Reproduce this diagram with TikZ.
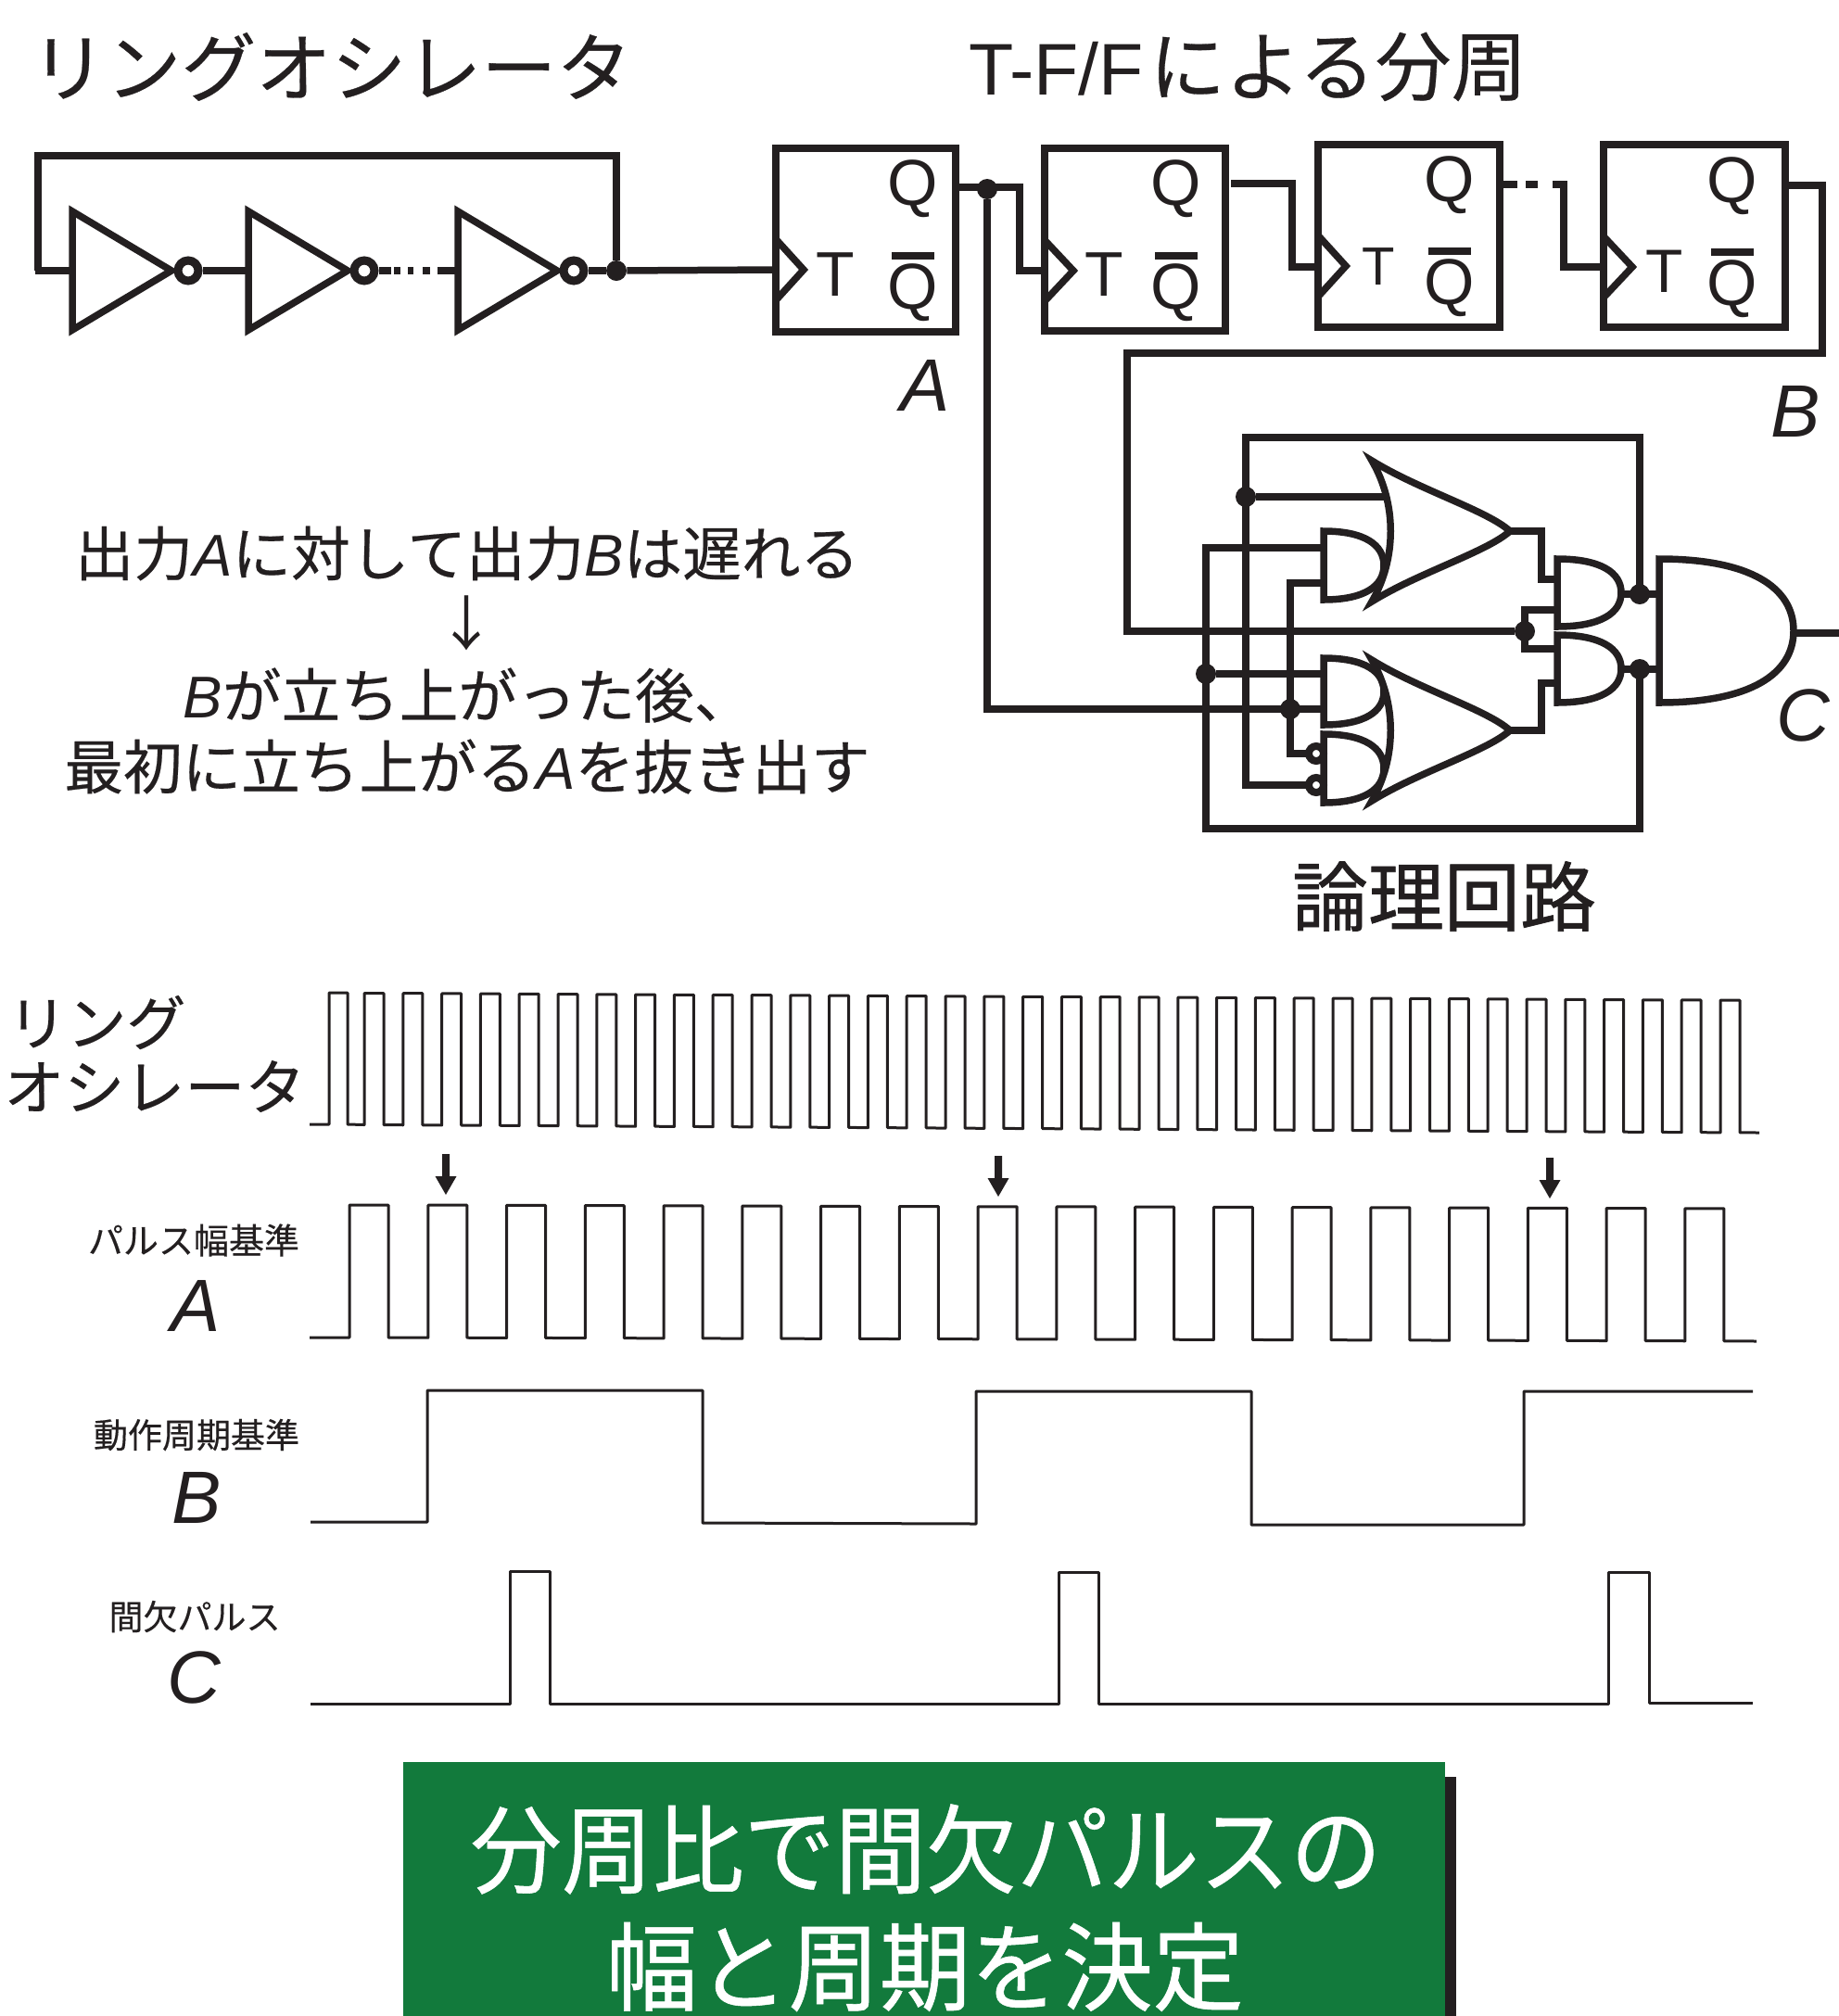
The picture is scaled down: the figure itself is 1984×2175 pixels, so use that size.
\documentclass[tikz,border=0pt]{standalone}
\usepackage{fontspec}
\setmainfont{Liberation Sans}
\newfontfamily\jpthin{Noto Sans CJK JP}
\newfontfamily\jp{Noto Sans CJK JP}[FakeBold=0.35]
\newfontfamily\jpb{Noto Sans CJK JP}[FakeBold=0.9]
\newfontfamily\jpband{Noto Sans CJK JP}[FakeBold=0.5,FakeStretch=0.945]
\definecolor{ink}{HTML}{231F20}
\definecolor{bandgreen}{HTML}{127A3C}
\newcommand{\fs}[1]{\fontsize{#1}{#1}\selectfont}
\newcommand{\A}[1]{{\fontspec{Liberation Sans}\itshape #1}}
\tikzset{
 x=0.5pt,y=-0.5pt,
 wire/.style={draw=ink,line width=3.75pt,line cap=butt,line join=miter},
 gate/.style={draw=ink,fill=white,line width=3.75pt,line join=miter},
 wave/.style={draw=ink,line width=1.5pt,line join=round},
 dotnode/.style={circle,fill=ink,inner sep=0pt,minimum size=11pt},
 bubble/.style={circle,draw=ink,fill=white,line width=4.5pt,inner sep=0pt,minimum size=11pt},
 smallbubble/.style={circle,draw=ink,fill=white,line width=4pt,inner sep=0pt,minimum size=8pt},
 lbl/.style={inner sep=0pt,text=ink,align=center},
 ltr/.style={inner sep=0pt,text=ink,anchor=base},
}
\newcommand{\Inv}[3]{% name, left x, y
 \draw[gate] (#2,#3-64) -- (#2+107,#3) -- (#2,#3+64) -- cycle;
 \node[bubble] (#1) at (#2+125,#3) {};
}
\newcommand{\FF}[8]{% name,l,t,r,b, qx, qy, qbary(center)
 \node[minimum width=0pt,inner sep=0pt] (#1) at ({(#2+#4)/2},{(#3+#5)/2}) {};
 \draw[wire] (#2,#3) rectangle (#4,#5);
 \node[ltr,font=\fs{35}] at (#6,#7+22) {Q};
 \node[ltr,font=\fs{35}] at (#6,#8+22) {Q};
 \draw[draw=ink,line width=4pt] (#6-23,#8-35) -- (#6+23,#8-35);
}
\newcommand{\Tri}[3]{% x, y, tip
 \draw[wire] (#1,#2-33) -- (#3,#2) -- (#1,#2+33);
}
\newcommand{\AndG}[4]{% left, top, bottom, right
 \draw[gate] (#1,#2) .. controls ({#1+0.68*(#4-#1)},#2) and (#4,{#2+0.2*(#3-#2)}) .. (#4,{(#2+#3)/2}) .. controls (#4,{#3-0.2*(#3-#2)}) and ({#1+0.68*(#4-#1)},#3) .. (#1,#3) -- cycle;
}
\newcommand{\OrG}[2]{% y centre, name
 \draw[gate] (1480,#1-76) .. controls (1530,#1-45) and (1605,#1-22) .. (1629,#1) .. controls (1605,#1+22) and (1530,#1+45) .. (1480,#1+76) .. controls (1507,#1+30) and (1507,#1-30) .. (1480,#1-76) -- cycle;
}
\begin{document}
\begin{tikzpicture}
\useasboundingbox (0,0) rectangle (1984,2175);
% titles
\node[lbl,font=\jp\fs{40.5},anchor=west] (t1) at (33,72) {リングオシレータ};
\node[lbl,font=\jp\fs{41},anchor=west] (t2) at (1045,72) {{\fontspec{Liberation Sans}\fs{39.5}T-F/F}\hspace{3pt}による分周};
% ring oscillator wires
\coordinate (rs) at (38,292);
\coordinate (rtl) at (41,168);
\coordinate (rtr) at (665,168);
\node[dotnode] (rdot) at (665,292) {};
\draw[wire] (rs) -- (41,292) -- (rtl) -- (rtr) -- (rdot);
\draw[wire] (rs) -- (78,292);
\Inv{i1}{78}{292}
\Inv{i2}{268}{292}
\Inv{i3}{494}{292}
\draw[wire] (i1) -- (268,292);
\draw[wire] (i2) -- (422,292);
\draw[wire] (425,292) -- (432,292) (440,292) -- (446,292) (456,292) -- (464,292) (472,292) -- (494,292);
\draw[wire] (i3) -- (rdot);
\draw[wire] (rdot) -- (837,291);
% flip-flops
\FF{ffa}{837}{160}{1031}{358}{985}{199}{311}
\FF{ffb}{1127}{160}{1322}{357}{1269}{199}{311}
\FF{ffc}{1422}{156}{1618}{353}{1564}{195}{306}
\FF{ffd}{1730}{156}{1926}{353}{1869}{196}{307}
\Tri{837}{291}{867}
\Tri{1127}{292}{1158}
\Tri{1422}{287}{1452}
\Tri{1730}{288}{1761}
\node[ltr,font=\fs{34}] (ta) at (901,319) {T};
\node[ltr,font=\fs{34}] (tb) at (1191,319) {T};
\node[ltr,font=\fs{29}] (tc) at (1487,307) {T};
\node[ltr,font=\fs{33}] (td) at (1796,315) {T};
% FF wiring
\node[dotnode] (adot) at (1065,204) {};
\draw[wire] (1031,202) -- (1100,202) -- (1100,292) -- (1127,292);
\coordinate (cin) at (1426,765);
\draw[wire] (adot) -- (1065,765) -- (cin);
\draw[wire] (1328,198) -- (1394,198) -- (1394,288) -- (1422,288);
\draw[wire] (1618,199) -- (1637,199) (1646,199) -- (1659,199) (1675,199) -- (1687,199) -- (1687,288) -- (1730,288);
\node[dotnode] (bdot) at (1645,681) {};
\draw[wire] (1926,200) -- (1966,200) -- (1966,381) -- (1216,381) -- (1216,681) -- (bdot);
% logic
\draw[wire] (1769,641) -- (1769,472) -- (1344,472) -- (1344,847) -- (1411,847);
\node[dotnode] (d1) at (1344,536) {};
\draw[wire] (d1) -- (1493,536);
\draw[wire] (1428,591) -- (1301,591) -- (1301,894) -- (1769,894) -- (1769,722);
\node[dotnode] (d2) at (1301,727) {};
\draw[wire] (d2) -- (1428,727);
\draw[wire] (1428,629) -- (1392,629) -- (1392,813) -- (1411,813);
\node[dotnode] (d3) at (1392,765) {};
\AndG{1428}{573}{647}{1493}
\AndG{1428}{710}{782}{1493}
\AndG{1428}{792}{866}{1493}
\OrG{573}{o1}
\OrG{788}{o2}
\node[smallbubble] (b1) at (1420,813) {};
\node[smallbubble] (b2) at (1420,847) {};
\draw[wire] (1629,573) -- (1663,573) -- (1663,625) -- (1680,625);
\draw[wire] (1629,788) -- (1663,788) -- (1663,737) -- (1680,737);
\draw[wire] (1680,658) -- (1645,658) -- (1645,700) -- (1680,700);
\AndG{1680}{603}{676}{1749}
\AndG{1680}{685}{758}{1749}
\node[dotnode] (d4) at (1769,641) {};
\node[dotnode] (d5) at (1769,722) {};
\draw[wire] (1749,641) -- (1790,641);
\draw[wire] (1749,722) -- (1790,722);
\AndG{1790}{603}{758}{1935}
\coordinate (cout) at (1984,683);
\draw[wire] (1935,683) -- (cout);
% labels
\node[lbl,font=\fs{40}\itshape] (la) at (998,416) {A};
\node[lbl,font=\fs{40}\itshape] (lb) at (1937,444) {B};
\node[lbl,font=\fs{40}\itshape] (lc) at (1945,772) {C};
\node[lbl,font=\jpb\fs{41}] (ll) at (1558,967) {論理回路};
% note
\node[lbl,font=\jp\fs{31.8}] (n1) at (504,597) {出力\A{A}に対して出力\A{B}は遅れる};
\node[lbl,font=\jpthin\fs{32}] (n2) at (503,672) {↓};
\node[lbl,font=\jp\fs{31.8}] (n3) at (505,750) {\A{B}が立ち上がった後、};
\node[lbl,font=\jp\fs{31.8}] (n4) at (504,827) {最初に立ち上がる\A{A}を抜き出す};
% wave labels
\node[lbl,font=\jp\fs{32},anchor=west] (w1) at (8,1103) {リング};
\node[lbl,font=\jp\fs{32.5},anchor=west] (w2) at (4,1172) {オシレータ};
\node[lbl,font=\jp\fs{19}] (w3) at (209,1338) {パルス幅基準};
\node[lbl,font=\fs{40}\itshape] (w4) at (211,1409) {A};
\node[lbl,font=\jp\fs{18.5}] (w5) at (212,1548) {動作周期基準};
\node[lbl,font=\fs{40}\itshape] (w6) at (212,1616) {B};
\node[lbl,font=\jp\fs{18.5}] (w7) at (210,1744) {間欠パルス};
\node[lbl,font=\fs{40}\itshape] (w8) at (209,1810) {C};
% ring wave
\draw[wave] (334,1213) -- (355,1213) -- (355,1071) -- (375,1071) -- (375,1213)
 \foreach \k in {0,...,35}{
   -- ({393+41.8*\k},{1213.5+0.24*\k}) -- ({393+41.8*\k},{1071.5+0.22*\k}) -- ({393+41.8*\k+21},{1071.5+0.22*\k}) -- ({393+41.8*\k+21},{1213.5+0.24*\k})
 } -- (1898,1222);
% A wave
\draw[wave] (334,1443) -- (377,1443)
 \foreach \k in {0,...,17}{
   -- ({377+84.76*\k},{1443+0.22*\k}) -- ({377+84.76*\k},{1300+0.22*\k}) -- ({419+84.76*\k},{1300+0.22*\k}) -- ({419+84.76*\k},{1443+0.22*\k})
 } -- (1895,1447);
% B wave
\draw[wave] (335,1642) -- (461,1642) -- (461,1500) -- (758,1500) -- (758,1643) -- (1053,1644) -- (1053,1501) -- (1350,1501) -- (1350,1645) -- (1644,1645) -- (1644,1501) -- (1891,1501);
% C wave
\draw[wave] (335,1838) -- (550,1838) -- (550,1695) -- (593,1695) -- (593,1838) -- (1142,1838) -- (1142,1696) -- (1185,1696) -- (1185,1838) -- (1735,1838) -- (1735,1696) -- (1779,1696) -- (1779,1837) -- (1891,1837);
% markers
\foreach \x/\y in {481/1245,1077/1247,1672/1249}{
 \fill[ink] (\x-4,\y) -- (\x+4,\y) -- (\x+4,\y+24) -- (\x+11.5,\y+24) -- (\x,\y+44) -- (\x-11.5,\y+24) -- (\x-4,\y+24) -- cycle;
}
% band
\fill[ink] (1450,1917) rectangle (1571,2175);
\node[fill=bandgreen,minimum width=562pt,minimum height=137pt,inner sep=0pt,anchor=north west] (band) at (435,1901) {};
\node[font=\jpband\fs{52},text=white,inner sep=0pt] (b1t) at (999,1995) {分周比で間欠パルスの};
\node[font=\jpband\fs{52},text=white,inner sep=0pt] (b2t) at (998,2122) {幅と周期を決定};
\end{tikzpicture}
\end{document}
